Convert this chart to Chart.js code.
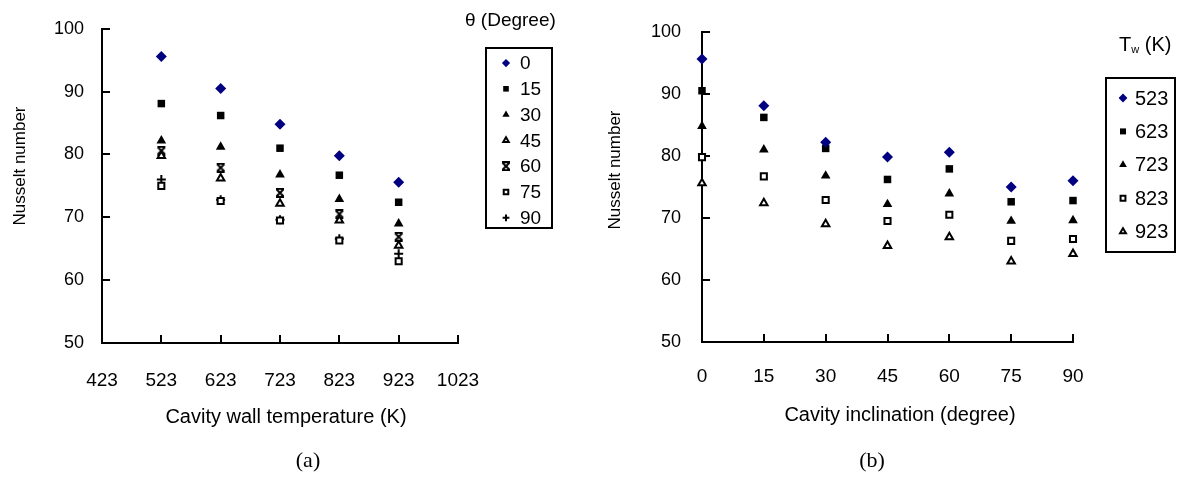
<!DOCTYPE html>
<html>
<head>
<meta charset="utf-8">
<script src="https://cdn.jsdelivr.net/npm/chart.js@4.4.1/dist/chart.umd.min.js"></script>
<style>
  html, body { margin: 0; padding: 0; background: #fff; }
  #wrap { position: relative; width: 1178px; height: 477px; overflow: hidden; }
  #wrap canvas { position: absolute; top: 0; }
</style>
</head>
<body>
<div id="wrap">
  <canvas id="chartA" width="590" height="477" style="left:0"></canvas>
  <canvas id="chartB" width="588" height="477" style="left:590px"></canvas>
</div>
<script>
// Nusselt number of the cavity: wall temperature (K) x inclination (degree)
const temperatures = [523, 623, 723, 823, 923];
const inclinations = [0, 15, 30, 45, 60, 75, 90];

// One row per wall temperature, values ordered by inclination
const nu523 = [95.6, 88.1, 82.2, 79.8, 80.6, 75.0, 76.0];
const nu623 = [90.5, 86.2, 81.2, 76.2, 77.9, 72.6, 72.8];
const nu723 = [84.8, 81.0, 76.8, 72.2, 73.9, 69.5, 69.6];
const nu823 = [79.8, 76.7, 72.9, 69.5, 70.5, 66.3, 66.6];
const nu923 = [75.6, 72.4, 69.0, 65.5, 66.9, 63.0, 64.2];
const nuRows = [nu523, nu623, nu723, nu823, nu923];

const temperatureTicks = [423, 523, 623, 723, 823, 923, 1023];
const inclinationTicks = [0, 15, 30, 45, 60, 75, 90];
const nusseltTicks = [50, 60, 70, 80, 90, 100];

// "X" marker with end bars
function makeStarMark() {
  const c = document.createElement('canvas');
  c.width = 10; c.height = 10;
  const g = c.getContext('2d');
  g.strokeStyle = '#000';
  g.lineWidth = 2;
  g.beginPath();
  g.moveTo(1.5, 1.5); g.lineTo(8.5, 8.5);
  g.moveTo(8.5, 1.5); g.lineTo(1.5, 8.5);
  g.moveTo(1, 1); g.lineTo(9, 1);
  g.moveTo(1, 9); g.lineTo(9, 9);
  g.stroke();
  return c;
}

const marks = {
  diamond:      { pointStyle: 'rectRot',  pointRadius: 5.5, pointBackgroundColor: '#000080', pointBorderColor: '#000080', pointBorderWidth: 0 },
  square:       { pointStyle: 'rect',     pointRadius: 5.3, pointBackgroundColor: '#000',    pointBorderColor: '#000',    pointBorderWidth: 0 },
  triangle:     { pointStyle: 'triangle', pointRadius: 5.6, pointBackgroundColor: '#000',    pointBorderColor: '#000',    pointBorderWidth: 0 },
  openTriangle: { pointStyle: 'triangle', pointRadius: 4.3, pointBackgroundColor: '#fff',    pointBorderColor: '#000',    pointBorderWidth: 2 },
  star:         { pointStyle: makeStarMark(), pointRadius: 5, pointBackgroundColor: '#000', pointBorderColor: '#000',  pointBorderWidth: 0 },
  openSquare:   { pointStyle: 'rect',     pointRadius: 4.3, pointBackgroundColor: '#fff',    pointBorderColor: '#000',    pointBorderWidth: 2 },
  plus:         { pointStyle: 'cross',    pointRadius: 4.5, pointBackgroundColor: '#000',    pointBorderColor: '#000',    pointBorderWidth: 2 }
};
const angleMarks = [marks.diamond, marks.square, marks.triangle, marks.openTriangle, marks.star, marks.openSquare, marks.plus];
const tempMarks = [marks.diamond, marks.square, marks.triangle, marks.openSquare, marks.openTriangle];

// (a): one series per inclination, plotted against wall temperature
const datasetsA = inclinations.map((ang, j) => Object.assign({
  label: String(ang),
  data: temperatures.map((t, i) => ({ x: t, y: nuRows[i][j] })),
  clip: false
}, angleMarks[j]));

// (b): one series per wall temperature, plotted against inclination
const datasetsB = temperatures.map((t, i) => Object.assign({
  label: String(t),
  data: inclinations.map((ang, j) => ({ x: ang, y: nuRows[i][j] })),
  clip: false
}, tempMarks[i]));

const SANS = '"Liberation Sans", Arial, sans-serif';
const SERIF = '"Liberation Serif", "Times New Roman", serif';

// Tick marks pointing into the plot area
const inwardTicks = {
  id: 'inwardTicks',
  beforeDatasetsDraw(chart) {
    const { ctx, chartArea: a, scales: { x, y } } = chart;
    ctx.save();
    ctx.strokeStyle = '#000';
    ctx.lineWidth = 2;
    ctx.beginPath();
    x.ticks.forEach(t => {
      const px = Math.round(x.getPixelForValue(t.value));
      if (px > a.left + 2) { ctx.moveTo(px, a.bottom); ctx.lineTo(px, a.bottom - 8); }
    });
    y.ticks.forEach(t => {
      const py = Math.round(y.getPixelForValue(t.value));
      if (py < a.bottom - 2) { ctx.moveTo(a.left, py); ctx.lineTo(a.left + 8, py); }
    });
    ctx.stroke();
    ctx.restore();
  }
};

// Axis captions and panel letter
const captions = {
  id: 'captions',
  afterDraw(chart, args, o) {
    const ctx = chart.ctx;
    ctx.save();
    ctx.fillStyle = '#000';
    ctx.textAlign = 'center';
    ctx.textBaseline = 'middle';
    ctx.font = '20px ' + SANS;
    ctx.fillText(o.xTitle, o.xTitleAt[0], o.xTitleAt[1]);
    ctx.save();
    ctx.translate(o.yTitleAt[0], o.yTitleAt[1]);
    ctx.rotate(-Math.PI / 2);
    ctx.font = '17px ' + SANS;
    ctx.fillText(o.yTitle, 0, 0);
    ctx.restore();
    ctx.font = '22px ' + SERIF;
    ctx.fillText(o.panel, o.panelAt[0], o.panelAt[1]);
    ctx.restore();
  }
};

// Framed legend built from the chart's own datasets
const boxLegend = {
  id: 'boxLegend',
  afterDraw(chart, args, o) {
    const ctx = chart.ctx;
    ctx.save();
    ctx.strokeStyle = '#000';
    ctx.lineWidth = 2;
    ctx.strokeRect(o.box[0], o.box[1], o.box[2], o.box[3]);
    ctx.fillStyle = '#000';
    ctx.textAlign = 'left';
    ctx.textBaseline = 'middle';
    let hx = o.headAt[0];
    o.head.forEach(run => {
      ctx.font = run.size + 'px ' + SANS;
      ctx.fillText(run.text, hx, o.headAt[1] + (run.dy || 0));
      hx += ctx.measureText(run.text).width;
    });
    chart.data.datasets.forEach((ds, i) => {
      const y = o.firstRow + i * o.rowGap;
      ctx.fillStyle = ds.pointBackgroundColor;
      ctx.strokeStyle = ds.pointBorderColor;
      ctx.lineWidth = ds.pointBorderWidth;
      Chart.helpers.drawPoint(ctx, {
        pointStyle: ds.pointStyle,
        radius: ds.pointRadius * o.markScale,
        borderWidth: ds.pointBorderWidth,
        rotation: 0
      }, o.markX, y);
      ctx.fillStyle = '#000';
      ctx.font = o.fontSize + 'px ' + SANS;
      ctx.fillText(ds.label, o.textX, y + 1);
    });
    ctx.restore();
  }
};

function axes(xMin, xMax, xTicks, yWidth, xHeight, yPad, xPad) {
  return {
    x: {
      type: 'linear', min: xMin, max: xMax,
      afterBuildTicks: s => { s.ticks = xTicks.map(v => ({ value: v })); },
      afterFit: s => { s.height = xHeight; },
      grid: { display: false, drawTicks: false },
      border: { display: true, color: '#000', width: 2 },
      ticks: { autoSkip: false, maxRotation: 0, padding: xPad, color: '#000',
               font: { family: SANS, size: 19 }, callback: v => String(v) }
    },
    y: {
      type: 'linear', min: 50, max: 100,
      afterBuildTicks: s => { s.ticks = nusseltTicks.map(v => ({ value: v })); },
      afterFit: s => { s.width = yWidth; },
      grid: { display: false, drawTicks: false },
      border: { display: true, color: '#000', width: 2 },
      ticks: { padding: yPad, color: '#000', font: { family: SANS, size: 18 }, callback: v => String(v) }
    }
  };
}

Chart.defaults.animation = false;

new Chart(document.getElementById('chartA'), {
  type: 'scatter',
  data: { datasets: datasetsA },
  plugins: [inwardTicks, captions, boxLegend],
  options: {
    responsive: false,
    devicePixelRatio: 1,
    layout: { padding: { left: 0, right: 132, top: 19, bottom: 0 } },
    scales: axes(423, 1023, temperatureTicks, 102, 134, 18, 26),
    plugins: {
      legend: { display: false },
      tooltip: { enabled: false },
      captions: {
        xTitle: 'Cavity wall temperature (K)', xTitleAt: [286, 417],
        yTitle: 'Nusselt number', yTitleAt: [20, 166],
        panel: '(a)', panelAt: [308, 461]
      },
      boxLegend: {
        box: [486, 48, 66, 180],
        head: [{ text: 'θ (Degree)', size: 19 }], headAt: [465, 21],
        firstRow: 63, rowGap: 25.8, markX: 506, textX: 520,
        fontSize: 19, markScale: 0.75
      }
    }
  }
});

new Chart(document.getElementById('chartB'), {
  type: 'scatter',
  data: { datasets: datasetsB },
  plugins: [inwardTicks, captions, boxLegend],
  options: {
    responsive: false,
    devicePixelRatio: 1,
    layout: { padding: { left: 0, right: 105, top: 25, bottom: 0 } },
    scales: axes(0, 90, inclinationTicks, 112, 135, 21, 23),
    plugins: {
      legend: { display: false },
      tooltip: { enabled: false },
      captions: {
        xTitle: 'Cavity inclination (degree)', xTitleAt: [310, 415],
        yTitle: 'Nusselt number', yTitleAt: [25, 170],
        panel: '(b)', panelAt: [282, 461]
      },
      boxLegend: {
        box: [516, 78, 69, 174],
        head: [{ text: 'T', size: 20 }, { text: 'w', size: 11, dy: 5 }, { text: ' (K)', size: 20 }], headAt: [529, 45],
        firstRow: 98, rowGap: 33.4, markX: 533, textX: 545,
        fontSize: 20, markScale: 0.8
      }
    }
  }
});
</script>
</body>
</html>
